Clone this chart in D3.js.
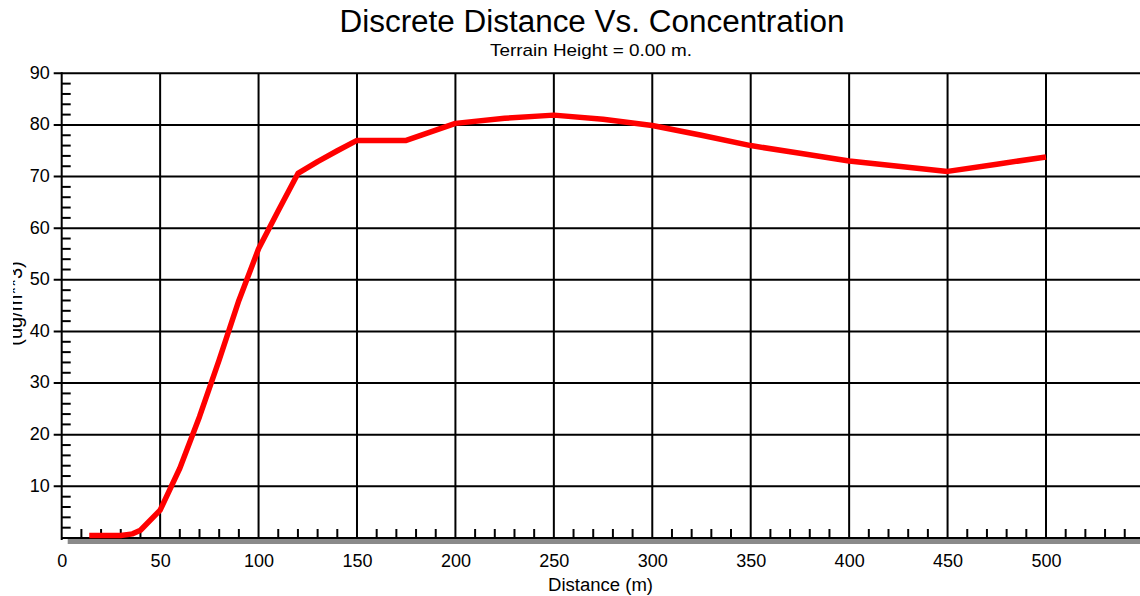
<!DOCTYPE html>
<html>
<head>
<meta charset="utf-8">
<script src="https://cdn.jsdelivr.net/npm/d3@7/dist/d3.min.js"></script>
<style>
  html, body { margin: 0; padding: 0; background: #fff; }
  svg { display: block; font-family: "Liberation Sans", Arial, sans-serif; }
</style>
</head>
<body>
<svg id="chart" width="1140" height="596"></svg>
<script>
// Receptor distance (m) and 1-hour concentration (ug/m**3)
const distances = [14, 20, 30, 36, 40, 50, 60, 70, 80, 90, 100, 110, 120, 130, 140, 150,
                   175, 200, 225, 250, 275, 300, 325, 350, 375, 400, 425, 450, 475, 500];
const concentrations = [0.5, 0.5, 0.5, 0.8, 1.5, 5.4, 13.5, 23.5, 34.5, 46.0, 56.0, 63.4, 70.6, 72.9, 75.0, 77.0,
                        77.0, 80.3, 81.3, 81.9, 81.1, 79.9, 78.0, 76.0, 74.5, 73.0, 72.0, 71.0, 72.4, 73.8];
const xMajorTicks = [0, 50, 100, 150, 200, 250, 300, 350, 400, 450, 500];
const yMajorTicks = [10, 20, 30, 40, 50, 60, 70, 80, 90];

const titleText = "Discrete Distance Vs. Concentration";
const subtitleText = "Terrain Height = 0.00 m.";
const xLabel = "Distance (m)";
const yLabel = "(ug/m**3)";

const svg = d3.select("#chart");
const W = 1140;

const x = d3.scaleLinear().domain([0, 550]).range([61.7, 61.7 + 550 * 1.9686]);
const y = d3.scaleLinear().domain([0, 90]).range([538, 73.3]);

const xMinor = d3.range(10, 550, 10).filter(v => v % 50 !== 0);
const yMinor = d3.range(2, 90, 2).filter(v => v % 10 !== 0);

// horizontal grid lines (with a short tick to the left of the axis)
svg.append("g").selectAll("line").data(yMajorTicks).join("line")
  .attr("x1", x(0) - 8).attr("x2", W)
  .attr("y1", d => y(d)).attr("y2", d => y(d))
  .attr("stroke", "#000").attr("stroke-width", 2);

// vertical grid lines (extending a little below the axis)
svg.append("g").selectAll("line").data(xMajorTicks.filter(d => d > 0)).join("line")
  .attr("x1", d => x(d)).attr("x2", d => x(d))
  .attr("y1", y(90)).attr("y2", y(0) + 4)
  .attr("stroke", "#000").attr("stroke-width", 2);

// minor ticks on the y axis, pointing into the plot
svg.append("g").selectAll("line").data(yMinor).join("line")
  .attr("x1", x(0)).attr("x2", x(0) + 9)
  .attr("y1", d => y(d)).attr("y2", d => y(d))
  .attr("stroke", "#000").attr("stroke-width", 2);

// minor ticks on the x axis, pointing up
svg.append("g").selectAll("line").data(xMinor).join("line")
  .attr("x1", d => x(d)).attr("x2", d => x(d))
  .attr("y1", y(0)).attr("y2", y(0) - 9)
  .attr("stroke", "#000").attr("stroke-width", 2);

// shadow under the x axis
svg.append("rect")
  .attr("x", x(0) + 6).attr("y", y(0) + 1)
  .attr("width", W - x(0) - 6).attr("height", 5)
  .attr("fill", "#8a8a8a");

// axis lines
svg.append("line")
  .attr("x1", x(0)).attr("x2", W).attr("y1", y(0)).attr("y2", y(0))
  .attr("stroke", "#000").attr("stroke-width", 2);
svg.append("line")
  .attr("x1", x(0)).attr("x2", x(0)).attr("y1", y(90) - 1).attr("y2", y(0) + 2)
  .attr("stroke", "#000").attr("stroke-width", 2);

// tick labels
const xAxis = d3.axisBottom(x).tickValues(xMajorTicks).tickSize(0).tickPadding(0);
const gx = svg.append("g").attr("transform", `translate(0,${y(0)})`).call(xAxis);
gx.select(".domain").remove();
gx.selectAll("text").attr("y", 29).attr("dy", null)
  .attr("font-size", 18).attr("font-family", "Liberation Sans, Arial, sans-serif").attr("fill", "#000");

const yAxis = d3.axisLeft(y).tickValues(yMajorTicks).tickSize(0).tickPadding(0);
const gy = svg.append("g").attr("transform", `translate(${x(0)},0)`).call(yAxis);
gy.select(".domain").remove();
gy.selectAll("text").attr("x", -12).attr("dy", "0.27em")
  .attr("font-size", 18).attr("font-family", "Liberation Sans, Arial, sans-serif").attr("fill", "#000");

// concentration curve
const line = d3.line().x((d, i) => x(distances[i])).y(d => y(d));
svg.append("path")
  .datum(concentrations)
  .attr("d", line)
  .attr("fill", "none")
  .attr("stroke", "#ff0000")
  .attr("stroke-width", 5.5)
  .attr("stroke-linejoin", "round");

// titles
svg.append("text").attr("x", 592).attr("y", 32).attr("text-anchor", "middle")
  .attr("font-size", 31).attr("textLength", 505).attr("lengthAdjust", "spacingAndGlyphs")
  .text(titleText);
svg.append("text").attr("x", 591).attr("y", 56).attr("text-anchor", "middle")
  .attr("font-size", 17).attr("textLength", 202).attr("lengthAdjust", "spacingAndGlyphs")
  .text(subtitleText);
svg.append("text").attr("x", 600.5).attr("y", 591).attr("text-anchor", "middle")
  .attr("font-size", 18).attr("textLength", 105).attr("lengthAdjust", "spacingAndGlyphs")
  .text(xLabel);

// y-axis unit label, partly hidden at the left edge
const defs = svg.append("defs");
defs.append("clipPath").attr("id", "ylab-clip")
  .append("rect").attr("x", 13).attr("y", 0).attr("width", 40).attr("height", 596);
svg.append("g").attr("clip-path", "url(#ylab-clip)")
  .append("text")
  .attr("transform", "translate(22,303.5) rotate(-90)")
  .attr("text-anchor", "middle")
  .attr("font-size", 20)
  .text(yLabel);
</script>
</body>
</html>
